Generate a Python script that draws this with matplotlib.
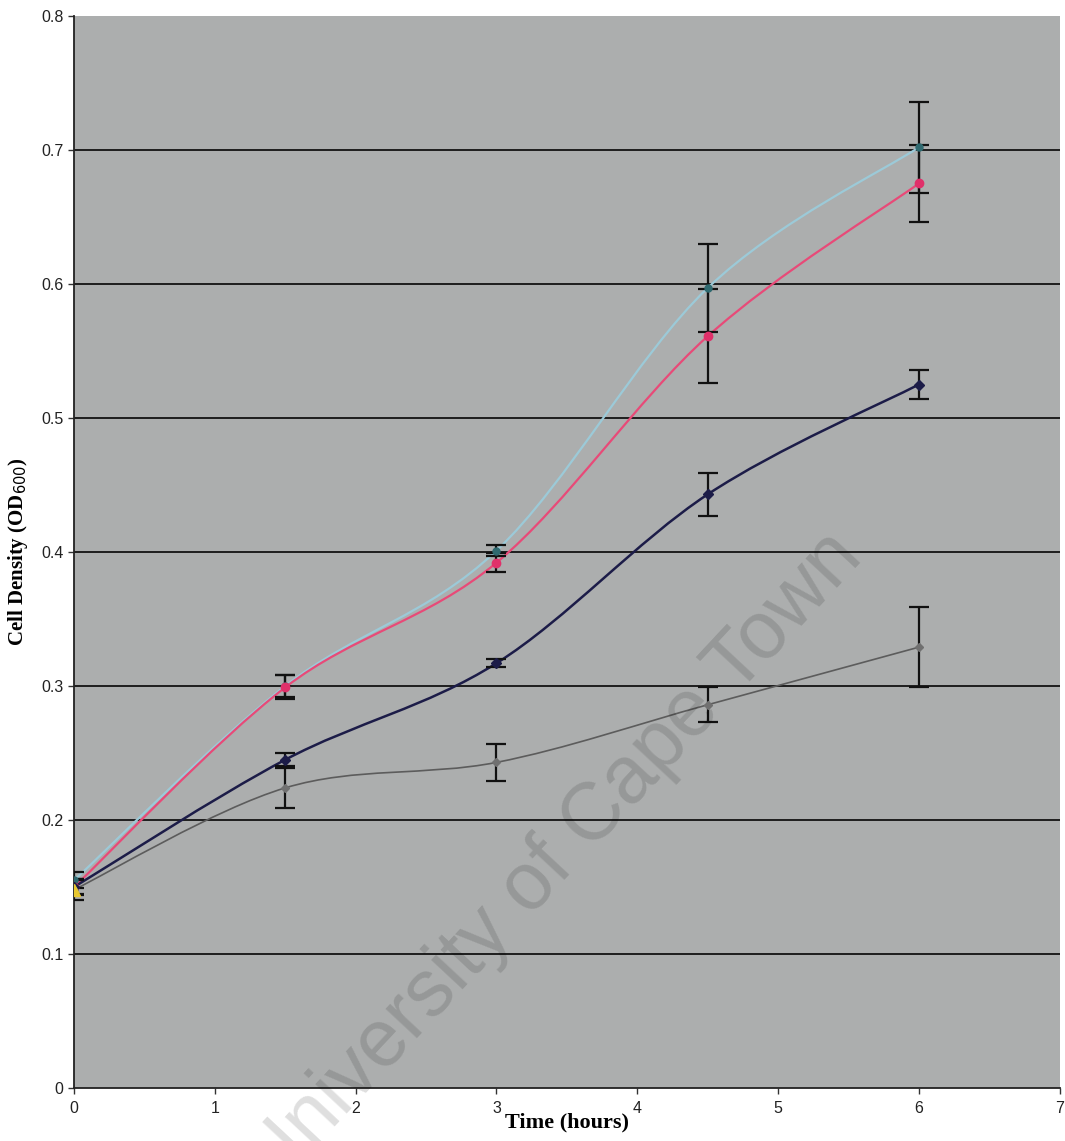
import matplotlib
matplotlib.use("Agg")
import matplotlib.pyplot as plt
import numpy as np
from matplotlib.path import Path
from matplotlib.patches import PathPatch

# ---- data ----
time_h = [0, 1.5, 3, 4.5, 6]

cyan_vals = [0.155, 0.300, 0.401, 0.597, 0.702]
cyan_err = [0.006, 0.008, 0.004, 0.033, 0.034]

pink_vals = [0.150, 0.299, 0.392, 0.561, 0.675]
pink_err = [0.006, 0.009, 0.007, 0.035, 0.029]

navy_vals = [0.150, 0.245, 0.317, 0.443, 0.525]
navy_err = [0.005, 0.005, 0.003, 0.016, 0.011]

gray_vals = [0.148, 0.224, 0.243, 0.286, 0.329]
gray_err = [0.008, 0.015, 0.014, 0.013, 0.030]

x_ticks = [0, 1, 2, 3, 4, 5, 6, 7]
y_ticks = [0, 0.1, 0.2, 0.3, 0.4, 0.5, 0.6, 0.7, 0.8]

fig = plt.figure(figsize=(10.65, 11.41), dpi=100)
ax = fig.add_axes([0.0695, 0.0464, 0.9255, 0.9396])
ax.set_facecolor('#acaeae')
ax.set_xlim(0, 7)
ax.set_ylim(0, 0.8)

for y in y_ticks[1:-1]:
    ax.axhline(y, color='#1e1e1e', lw=1.4, zorder=1)


def smooth_path(xs, ys, tension=1/6.0):
    xs = np.asarray(xs, float); ys = np.asarray(ys, float)
    pts = np.column_stack([xs, ys])
    verts = [pts[0]]
    codes = [Path.MOVETO]
    n = len(pts)
    for i in range(n - 1):
        p0 = pts[i - 1] if i > 0 else pts[i]
        p1 = pts[i]
        p2 = pts[i + 1]
        p3 = pts[i + 2] if i + 2 < n else pts[i + 1]
        c1 = p1 + (p2 - p0) * tension
        c2 = p2 - (p3 - p1) * tension
        verts += [c1, c2, p2]
        codes += [Path.CURVE4] * 3
    return Path(verts, codes)


series = [
    (cyan_vals, cyan_err, '#9ccad8', 1.6, 'o', '#2f6a70', 5),
    (pink_vals, pink_err, '#e84a78', 1.6, 'o', '#e0306a', 6),
    (navy_vals, navy_err, '#1c1c48', 1.8, 'D', '#1c1c48', 5),
    (gray_vals, gray_err, '#5c5c5c', 1.2, 'D', '#707070', 4),
]

for vals, err, lc, lw, mk, mc, ms in series:
    ax.add_patch(PathPatch(smooth_path(time_h, vals), facecolor='none',
                           edgecolor=lc, lw=lw, zorder=3, transform=ax.transData))
    ax.errorbar(time_h, vals, yerr=err, fmt='none', ecolor='#111111',
                elinewidth=1.6, capsize=7, capthick=1.6, zorder=4)
    ax.plot(time_h, vals, linestyle='none', marker=mk, color=mc,
            markersize=ms, zorder=5)

# first point of the gray series shown with yellow triangle
ax.plot(time_h[:1], gray_vals[:1], linestyle='none', marker='^',
        color='#e8c830', markersize=8, zorder=6)

ax.set_xticks(x_ticks)
ax.set_yticks(y_ticks)
ax.set_xticklabels([str(v) for v in x_ticks], fontsize=11.5, family='Liberation Sans')
ax.set_yticklabels(['0'] + [f'{v:.1f}' for v in y_ticks[1:]], fontsize=11.5,
                   family='Liberation Sans')
ax.tick_params(axis='both', direction='out', length=4, width=1, color='#333333',
               colors='#222222')
ax.tick_params(axis='x', pad=5)

for s in ['top', 'right']:
    ax.spines[s].set_visible(False)
for s in ['left', 'bottom']:
    ax.spines[s].set_color('#222222')
    ax.spines[s].set_linewidth(1.3)

ax.set_xlabel('Time (hours)', fontsize=16, fontweight='bold', family='Liberation Serif',
              labelpad=-2)
ax.set_ylabel('Cell Density (OD$_{600}$)', fontsize=15, fontweight='bold',
              family='Liberation Serif', labelpad=8)

fig.text(0.52, 0.245, 'University of Cape Town', fontsize=58, rotation=47,
         color='black', alpha=0.13, ha='center', va='center',
         family='Liberation Sans', zorder=10)

fig.savefig('out.png', dpi=100, facecolor='white')
